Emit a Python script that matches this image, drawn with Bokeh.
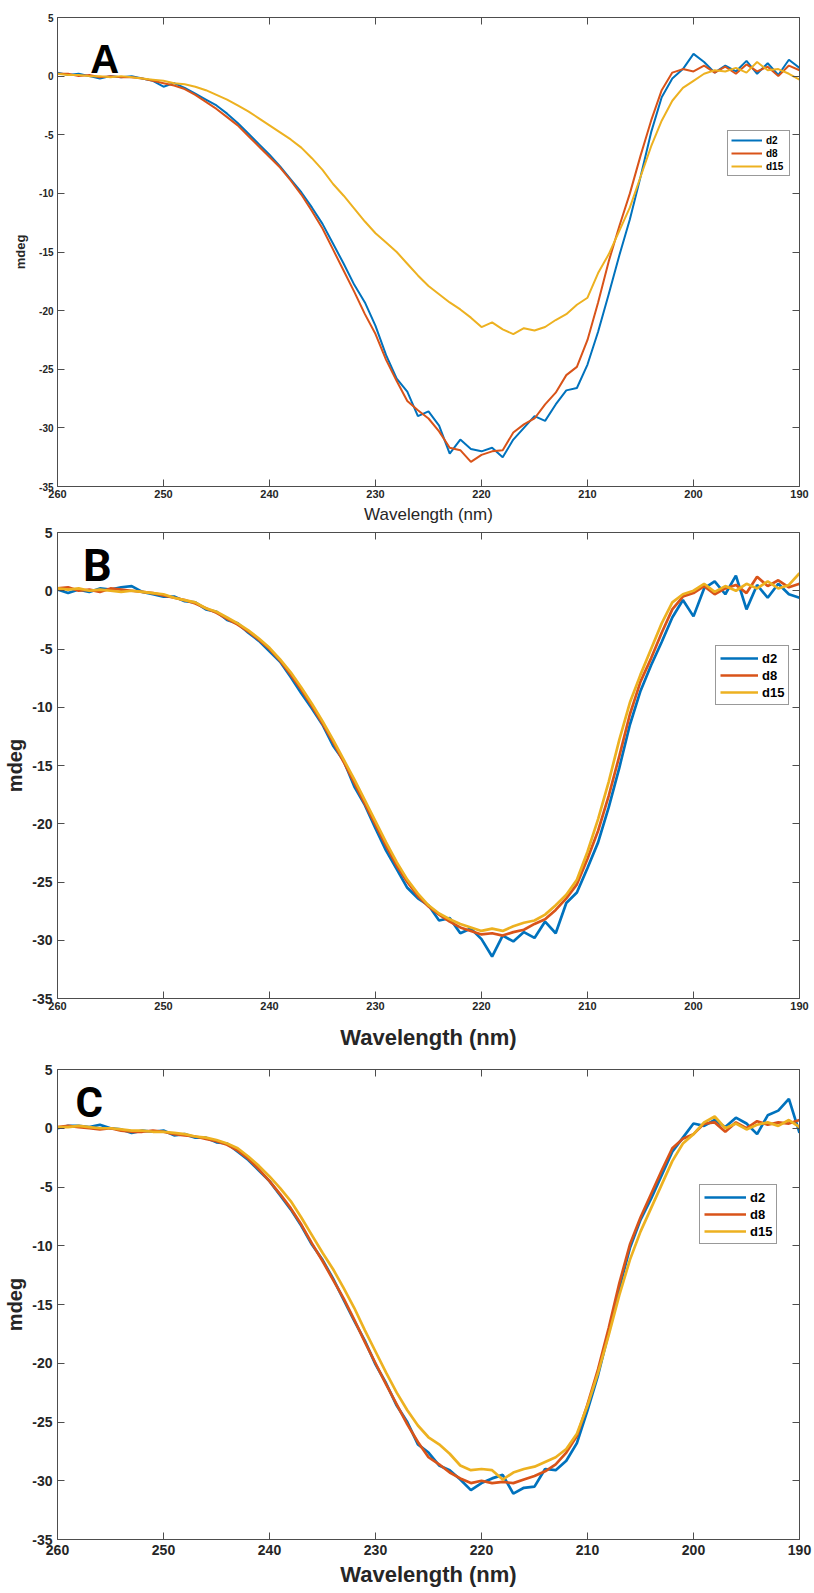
from bokeh.embed import file_html
from bokeh.layouts import column
from bokeh.models import FixedTicker, Label, Legend, LegendItem, LinearAxis, Range1d
from bokeh.plotting import figure
from bokeh.resources import INLINE

# Wavelength grid (nm), scanned from 260 down to 190
wavelength = list(range(260, 189, -1))

x_ticks = [260, 250, 240, 230, 220, 210, 200, 190]
y_ticks = [5, 0, -5, -10, -15, -20, -25, -30, -35]
series_names = ["d2", "d8", "d15"]

# ---- Panel A (mdeg) ----
a_d2 = [0.3, 0.1, 0.2, 0.0, -0.2, 0.0, -0.1, 0.0, -0.2, -0.4,
        -0.9, -0.6, -1.0, -1.5, -2.0, -2.5, -3.2, -4.0, -4.9, -5.8,
        -6.7, -7.7, -8.8, -9.9, -11.2, -12.6, -14.3, -16.0, -17.8, -19.3,
        -21.3, -23.8, -25.8, -26.9, -29.0, -28.6, -29.8, -32.2, -31.0, -31.8,
        -32.0, -31.7, -32.5, -31.0, -30.0, -29.0, -29.4, -28.0, -26.8, -26.6,
        -24.6, -21.8, -18.6, -15.3, -12.2, -8.6, -4.8, -1.8, -0.2, 0.6,
        1.9, 1.2, 0.3, 0.9, 0.4, 1.3, 0.2, 1.1, 0.1, 1.4, 0.7]
a_d8 = [0.2, 0.2, 0.0, 0.1, -0.1, 0.0, -0.1, -0.1, -0.2, -0.4,
        -0.6, -0.8, -1.1, -1.6, -2.2, -2.8, -3.5, -4.2, -5.1, -6.0,
        -6.9, -7.8, -8.9, -10.1, -11.5, -13.0, -14.8, -16.6, -18.4, -20.3,
        -22.0, -24.2, -26.0, -27.7, -28.5, -29.2, -30.3, -31.7, -31.9, -32.9,
        -32.3, -32.0, -31.9, -30.4, -29.7, -29.2, -28.0, -27.0, -25.5, -24.8,
        -22.5, -19.3, -15.8, -12.8, -10.0, -6.8, -3.8, -1.2, 0.3, 0.6,
        0.4, 0.9, 0.3, 0.8, 0.2, 1.0, 0.4, 0.8, 0.0, 0.9, 0.5]
a_d15 = [0.2, 0.1, 0.1, 0.0, 0.0, -0.1, 0.0, -0.1, -0.2, -0.3,
         -0.4, -0.6, -0.7, -0.9, -1.2, -1.6, -2.0, -2.5, -3.0, -3.6,
         -4.2, -4.8, -5.4, -6.1, -7.0, -8.0, -9.2, -10.2, -11.3, -12.4,
         -13.4, -14.2, -15.0, -16.0, -17.0, -17.9, -18.6, -19.3, -19.9, -20.6,
         -21.4, -21.0, -21.6, -22.0, -21.5, -21.7, -21.4, -20.8, -20.3, -19.5,
         -18.9, -16.8, -15.2, -13.2, -11.2, -8.6, -6.0, -3.8, -2.1, -1.0,
         -0.4, 0.2, 0.5, 0.4, 0.7, 0.3, 1.2, 0.5, 0.6, 0.2, -0.3]

# ---- Panel B (mdeg) ----
b_d2 = [0.1, -0.2, 0.1, -0.1, 0.2, 0.1, 0.3, 0.4, -0.1, -0.3,
        -0.5, -0.5, -0.9, -1.0, -1.6, -1.8, -2.5, -2.8, -3.6, -4.3,
        -5.2, -6.1, -7.4, -8.8, -10.1, -11.5, -13.3, -14.6, -16.8, -18.4,
        -20.4, -22.3, -23.9, -25.5, -26.4, -27.0, -28.3, -28.1, -29.4, -29.0,
        -29.9, -31.4, -29.6, -30.1, -29.3, -29.8, -28.4, -29.4, -26.8, -25.9,
        -23.8, -21.6, -18.6, -15.2, -11.5, -8.6, -6.4, -4.4, -2.3, -0.8,
        -2.2, 0.2, 0.8, -0.3, 1.3, -1.6, 0.5, -0.6, 0.6, -0.3, -0.6]
b_d8 = [0.2, 0.3, 0.0, 0.1, -0.1, 0.2, 0.1, 0.0, -0.1, -0.2,
        -0.4, -0.6, -0.8, -1.1, -1.5, -1.9, -2.4, -2.9, -3.5, -4.2,
        -5.0, -6.0, -7.2, -8.5, -9.9, -11.4, -13.0, -14.7, -16.5, -18.3,
        -20.1, -21.9, -23.6, -25.0, -26.2, -27.1, -27.8, -28.4, -28.9, -29.2,
        -29.5, -29.4, -29.6, -29.3, -29.1, -28.6, -28.2, -27.4, -26.4, -25.2,
        -23.0, -20.6, -17.6, -14.2, -10.6, -7.8, -5.8, -3.6, -1.6, -0.5,
        -0.2, 0.4, -0.3, 0.2, 0.5, -0.2, 1.2, 0.4, 0.9, 0.3, 0.6]
b_d15 = [0.2, 0.1, 0.2, 0.0, 0.1, 0.0, -0.1, 0.0, -0.1, -0.2,
         -0.3, -0.6, -0.8, -1.0, -1.5, -1.8, -2.3, -2.8, -3.4, -4.1,
         -4.9, -5.9, -7.0, -8.3, -9.7, -11.2, -12.8, -14.5, -16.2, -18.0,
         -19.8, -21.6, -23.3, -24.8, -26.0, -27.0, -27.7, -28.2, -28.6, -28.9,
         -29.2, -29.0, -29.2, -28.8, -28.5, -28.3, -27.8, -27.0, -26.1, -24.8,
         -22.4, -19.6, -16.4, -12.8, -9.6, -7.2, -5.0, -2.8, -1.0, -0.3,
         0.0, 0.6, -0.1, 0.4, 0.0, 0.6, 0.2, 0.8, 0.2, 0.5, 1.5]

# ---- Panel C (mdeg) ----
c_d2 = [0.0, 0.2, 0.2, 0.1, 0.3, 0.0, -0.1, -0.4, -0.2, -0.3,
        -0.2, -0.6, -0.5, -0.8, -0.8, -1.2, -1.3, -2.0, -2.7, -3.6,
        -4.5, -5.7, -6.9, -8.3, -9.9, -11.2, -12.8, -14.6, -16.4, -18.1,
        -20.1, -21.7, -23.6, -25.0, -26.9, -27.6, -28.7, -29.1, -29.9, -30.8,
        -30.2, -29.8, -29.5, -31.1, -30.6, -30.5, -29.0, -29.1, -28.3, -26.8,
        -24.0, -21.0, -17.4, -13.6, -10.2, -7.8, -6.0, -4.0, -2.0, -0.8,
        0.4, 0.2, 0.7, 0.1, 0.9, 0.4, -0.5, 1.1, 1.5, 2.5, -0.4]
c_d8 = [0.1, 0.2, 0.1, 0.0, -0.1, 0.0, -0.2, -0.3, -0.3, -0.2,
        -0.3, -0.5, -0.6, -0.7, -0.9, -1.1, -1.4, -1.9, -2.6, -3.5,
        -4.5, -5.6, -6.8, -8.2, -9.8, -11.3, -12.9, -14.5, -16.3, -18.2,
        -20.0, -21.8, -23.5, -25.2, -26.7, -28.0, -28.6, -29.3, -29.8, -30.2,
        -30.0, -30.2, -30.1, -30.2, -29.9, -29.6, -29.2, -28.6, -27.6, -26.2,
        -23.5, -20.5, -17.0, -13.2, -9.9, -7.6, -5.6, -3.6, -1.7, -0.9,
        -0.5, 0.4, 0.5, -0.3, 0.5, 0.0, 0.6, 0.3, 0.5, 0.4, 0.7]
c_d15 = [0.1, 0.1, 0.2, 0.1, 0.0, 0.0, -0.1, -0.2, -0.2, -0.3,
         -0.3, -0.4, -0.5, -0.7, -0.8, -1.0, -1.3, -1.7, -2.4, -3.2,
         -4.1, -5.1, -6.2, -7.6, -9.1, -10.6, -12.0, -13.6, -15.3, -17.2,
         -19.0, -20.8, -22.5, -24.0, -25.3, -26.3, -26.9, -27.7, -28.7, -29.1,
         -29.0, -29.1, -29.9, -29.3, -29.0, -28.8, -28.4, -28.0, -27.3, -26.0,
         -23.6, -20.8, -17.6, -14.2, -11.2, -8.8, -6.8, -4.8, -2.8, -1.3,
         -0.5, 0.5, 1.0, 0.0, 0.4, -0.1, 0.3, 0.5, 0.2, 0.7, 0.1]

COLORS = ["#0072BD", "#D95319", "#EDB120"]
AXIS_COLOR = "#4d4d4d"
TEXT_COLOR = "#262626"
FONT = "Liberation Sans"


def style_axis(axis, ticks, size, standoff):
    axis.ticker = FixedTicker(ticks=ticks)
    axis.major_label_overrides = {t: str(t) for t in ticks}
    axis.major_tick_in = 7
    axis.major_tick_out = 0
    axis.minor_tick_line_color = None
    axis.axis_line_color = AXIS_COLOR
    axis.major_tick_line_color = AXIS_COLOR
    axis.axis_line_width = 1
    axis.major_label_text_font = FONT
    axis.major_label_text_font_style = "bold"
    axis.major_label_text_color = TEXT_COLOR
    axis.major_label_text_font_size = size
    axis.major_label_standoff = standoff


def mirror_axis(ticks):
    # box side with inward ticks only (ticks as minor ticks -> no labels)
    ax = LinearAxis(ticker=FixedTicker(ticks=[], minor_ticks=ticks))
    ax.axis_line_color = AXIS_COLOR
    ax.axis_line_width = 1
    ax.major_tick_line_color = None
    ax.minor_tick_line_color = AXIS_COLOR
    ax.minor_tick_in = 7
    ax.minor_tick_out = 0
    ax.major_label_standoff = 0
    return ax


def panel(curves, letter, st):
    p = figure(width=814, height=st["height"],
               x_range=Range1d(260, 190), y_range=Range1d(-35, 5),
               output_backend="svg", toolbar_location=None,
               min_border_left=57, min_border_right=15,
               min_border_top=st["top"], min_border_bottom=st["bottom"])
    p.grid.visible = False
    p.outline_line_color = None
    p.background_fill_color = "white"
    p.border_fill_color = "white"

    xa = p.xaxis[0]
    style_axis(xa, x_ticks, st["xtick"], st["xstand"])
    xa.axis_label = "Wavelength (nm)"
    xa.axis_label_text_font = FONT
    xa.axis_label_text_font_size = st["xlabel_size"]
    xa.axis_label_text_font_style = st["xlabel_style"]
    xa.axis_label_text_color = TEXT_COLOR
    xa.axis_label_standoff = st["xlabel_stand"]

    ya = p.yaxis[0]
    style_axis(ya, y_ticks, st["ytick"], st["ystand"])
    ya.axis_label = "mdeg"
    ya.axis_label_text_font = FONT
    ya.axis_label_text_font_size = st["ylabel_size"]
    ya.axis_label_text_font_style = "bold"
    ya.axis_label_text_color = TEXT_COLOR
    ya.axis_label_standoff = st["ylabel_stand"]

    p.add_layout(mirror_axis(x_ticks), "above")
    p.add_layout(mirror_axis(y_ticks), "right")

    renderers = []
    for vals, color in zip(curves, COLORS):
        r = p.line(wavelength, vals, line_color=color, line_width=st["lw"])
        renderers.append(r)

    legend = Legend(
        items=[LegendItem(label=n, renderers=[r]) for n, r in zip(series_names, renderers)],
        location=st["leg_loc"], orientation="vertical",
        label_text_font=FONT, label_text_font_style="bold",
        label_text_font_size=st["leg_font"], label_text_color="black",
        glyph_width=st["leg_glyph_w"], glyph_height=st["leg_row"],
        label_height=st["leg_row"], label_standoff=4,
        spacing=1, padding=st["leg_pad"], margin=0,
        border_line_color="#333333", border_line_width=1,
        background_fill_color="white", background_fill_alpha=1.0,
    )
    p.add_layout(legend)

    p.add_layout(Label(x=st["letter_x"], y=st["letter_y"], text=letter,
                       text_align="left", text_baseline="alphabetic",
                       text_font=st["letter_font"], text_font_size=st["letter_size"],
                       text_font_style="bold", text_color="black"))
    return p


style_a = dict(height=526, top=17, bottom=39, lw=2.0,
               xtick="11px", xstand=3, ytick="10px", ystand=4,
               xlabel_size="17px", xlabel_style="normal", xlabel_stand=4,
               ylabel_size="13px", ylabel_stand=8,
               letter_x=256.9, letter_y=1.43, letter_font=FONT, letter_size="40px",
               leg_loc=(670, 310), leg_font="10px", leg_glyph_w=31, leg_row=12, leg_pad=3)
style_b = dict(height=532, top=6, bottom=60, lw=2.7,
               xtick="11px", xstand=3, ytick="14px", ystand=5,
               xlabel_size="22px", xlabel_style="bold", xlabel_stand=12,
               ylabel_size="20px", ylabel_stand=3,
               letter_x=257.6, letter_y=2.17, letter_font="Roboto", letter_size="45px",
               leg_loc=(658, 293), leg_font="13px", leg_glyph_w=38, leg_row=16, leg_pad=4)
style_c = dict(height=535, top=11, bottom=54, lw=2.7,
               xtick="14px", xstand=5, ytick="14px", ystand=5,
               xlabel_size="22px", xlabel_style="bold", xlabel_stand=4,
               ylabel_size="20px", ylabel_stand=3,
               letter_x=258.3, letter_y=2.15, letter_font="Roboto", letter_size="42px",
               leg_loc=(642, 295), leg_font="13px", leg_glyph_w=42, leg_row=16, leg_pad=4)

p_a = panel([a_d2, a_d8, a_d15], "A", style_a)
p_b = panel([b_d2, b_d8, b_d15], "B", style_b)
p_c = panel([c_d2, c_d8, c_d15], "C", style_c)

page = column(p_a, p_b, p_c, spacing=0)

with open("out.html", "w") as f:
    f.write(file_html(page, INLINE))
